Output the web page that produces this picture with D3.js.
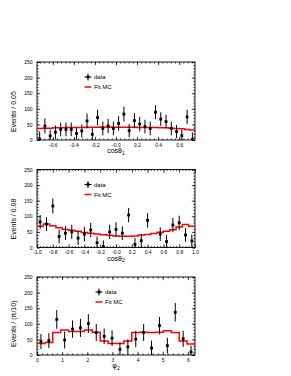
<!DOCTYPE html>
<html>
<head>
<meta charset="utf-8">
<script src="https://cdn.jsdelivr.net/npm/d3@7"></script>
<style>
  body { margin: 0; background: #fff; }
  text { font-family: "Liberation Sans", Arial, sans-serif; fill: #000; }
</style>
</head>
<body>
<svg id="chart" width="291" height="376"></svg>
<script>
// values
// cos(theta1), 30 bins of 0.05
const cos1Counts = [3, 45, 13, 25, 34, 34, 34, 21, 29, 61, 18, 72, 37, 45, 37, 53, 83, 30, 62, 51, 43, 37, 89, 67, 59, 37, 27, 14, 74, 2];
const cos1Errors = [24, 24, 20, 22, 22, 22, 22, 20, 21, 24, 20, 25, 22, 23, 22, 23, 24, 21, 24, 23, 22, 22, 22, 22, 22, 22, 21, 19, 23, 22];
const cos1Fit = [37, 38, 38, 39, 39, 40, 40, 40, 40, 41, 41, 41, 42, 42, 41, 41, 41, 41, 41, 40, 40, 40, 40, 39, 39, 38, 37, 36, 34, 32];
const cos1Ticks = [-0.6, -0.4, -0.2, 0, 0.2, 0.4, 0.6];
const cos1TickLabels = ["-0.6", "-0.4", "-0.2", "-0.0", "0.2", "0.4", "0.6"];

// cos(theta2), 25 bins of 0.08
const cos2Counts = [82, 75, 133, 35, 46, 50, 30, 43, 56, 15, 3, 50, 58, 46, 104, 10, 22, 87, null, 43, 19, 72, 79, 40, 21];
const cos2Errors = [22, 22, 24, 22, 22, 23, 22, 23, 23, 20, 20, 23, 23, 22, 23, 20, 21, 23, 0, 22, 21, 23, 23, 22, 21];
const cos2Fit = [68, 75, 70, 63, 58, 55, 52, 48, 46, 43, 41, 39, 37, 36, 36, 37, 40, 42, 45, 49, 52, 57, 66, 74, 68];
const cos2Ticks = [-1, -0.8, -0.6, -0.4, -0.2, 0, 0.2, 0.4, 0.6, 0.8, 1];
const cos2TickLabels = ["-1.0", "-0.8", "-0.6", "-0.4", "-0.2", "-0.0", "0.2", "0.4", "0.6", "0.8", "1.0"];

// phi2, 20 bins of pi/10
const phiCounts = [43, 46, 114, 48, 83, 87, 101, 72, 60, 54, 18, 26, 51, 72, 22, 94, 30, 137, 52, 10];
const phiErrors = [24, 24, 30, 27, 28, 29, 30, 27, 25, 25, 22, 24, 26, 27, 24, 28, 25, 30, 26, 20];
const phiFit = [37, 40, 72, 80, 75, 75, 80, 73, 45, 37, 37, 45, 72, 73, 72, 73, 78, 72, 45, 35];
const phiTicks = [0, 1, 2, 3, 4, 5, 6];
const phiTickLabels = ["0", "1", "2", "3", "4", "5", "6"];

const yTicks = [0, 50, 100, 150, 200, 250];

const svg = d3.select("#chart");
const left = 37, right = 195;

function drawPanel(p, idx) {
  const x = d3.scaleLinear().domain(p.domain).range([left, right]);
  const y = d3.scaleLinear().domain([0, 250]).range([p.bottom, p.top]);
  const g = svg.append("g");
  const n = p.counts.length;
  const bw = (p.domain[1] - p.domain[0]) / n;

  g.append("clipPath").attr("id", "clip" + idx)
    .append("rect").attr("x", left).attr("y", p.top)
    .attr("width", right - left).attr("height", p.bottom - p.top);

  // minor ticks
  const minorX = d3.range(Math.ceil(p.domain[0] / p.minor - 1e-6), Math.floor(p.domain[1] / p.minor + 1e-6) + 1)
    .map(k => +(k * p.minor).toFixed(4));
  const minorY = d3.range(0, 251, 10);

  const axes = [
    [d3.axisBottom(x).tickValues(minorX).tickSize(-1.6).tickFormat(""), `translate(0,${p.bottom})`],
    [d3.axisTop(x).tickValues(minorX).tickSize(-1.6).tickFormat(""), `translate(0,${p.top})`],
    [d3.axisTop(x).tickValues(p.ticks).tickSize(-3.2).tickFormat(""), `translate(0,${p.top})`],
    [d3.axisLeft(y).tickValues(minorY).tickSize(-1.6).tickFormat(""), `translate(${left},0)`],
    [d3.axisRight(y).tickValues(minorY).tickSize(-1.6).tickFormat(""), `translate(${right},0)`],
    [d3.axisRight(y).tickValues(yTicks).tickSize(-3.2).tickFormat(""), `translate(${right},0)`],
    [d3.axisBottom(x).tickValues(p.ticks).tickSize(-3.2).tickPadding(3)
      .tickFormat((d, i) => p.labels[i]), `translate(0,${p.bottom})`],
    [d3.axisLeft(y).tickValues(yTicks).tickSize(-3.2).tickPadding(4.5), `translate(${left},0)`]
  ];
  axes.forEach(([ax, tr]) => {
    const a = g.append("g").attr("transform", tr).call(ax);
    a.select(".domain").remove();
    a.selectAll("line").attr("stroke", "#000").attr("stroke-width", 0.7);
    a.selectAll("text").style("font-size", "5px").style("font-family", "'Liberation Sans', Arial, sans-serif");
  });

  g.append("rect")
    .attr("x", left).attr("y", p.top)
    .attr("width", right - left).attr("height", p.bottom - p.top)
    .attr("fill", "none").attr("stroke", "#000").attr("stroke-width", 0.9);

  // fit histogram
  const fitPts = p.fit.map((v, i) => [p.domain[0] + i * bw, v]);
  fitPts.push([p.domain[1], p.fit[n - 1]]);
  g.append("path")
    .attr("clip-path", `url(#clip${idx})`)
    .attr("d", d3.line().x(d => x(d[0])).y(d => y(d[1])).curve(d3.curveStepAfter)(fitPts))
    .attr("fill", "none").attr("stroke", "#ff0000").attr("stroke-width", 1.5);

  // data
  const pts = p.counts.map((v, i) => ({ c: p.domain[0] + (i + 0.5) * bw, v: v, e: p.errors[i] }))
    .filter(d => d.v !== null);
  const dg = g.append("g").attr("clip-path", `url(#clip${idx})`);
  dg.selectAll("line").data(pts).enter().append("line")
    .attr("x1", d => x(d.c)).attr("x2", d => x(d.c))
    .attr("y1", d => y(d.v - d.e)).attr("y2", d => y(d.v + d.e))
    .attr("stroke", "#000").attr("stroke-width", 1);
  dg.selectAll("rect").data(pts).enter().append("rect")
    .attr("x", d => x(d.c) - 1.4).attr("y", d => y(d.v) - 1.4)
    .attr("width", 2.8).attr("height", 2.8).attr("fill", "#000");

  // legend
  const lx = p.legendX, ly = p.top + 15;
  g.append("line").attr("x1", lx - 3.5).attr("x2", lx + 3.5).attr("y1", ly).attr("y2", ly).attr("stroke", "#000");
  g.append("line").attr("x1", lx).attr("x2", lx).attr("y1", ly - 3.5).attr("y2", ly + 3.5).attr("stroke", "#000");
  g.append("rect").attr("x", lx - 1.4).attr("y", ly - 1.4).attr("width", 2.8).attr("height", 2.8);
  g.append("text").attr("x", lx + 6).attr("y", ly + 2).style("font-size", "6px").text("data");
  g.append("line").attr("x1", lx - 3.5).attr("x2", lx + 3.5).attr("y1", ly + 10).attr("y2", ly + 10)
    .attr("stroke", "#ff0000").attr("stroke-width", 1.5);
  g.append("text").attr("x", lx + 6).attr("y", ly + 12).style("font-size", "6px").text("Fit MC");

  // axis titles
  const xt = g.append("text").attr("x", (left + right) / 2).attr("y", p.bottom + 13)
    .attr("text-anchor", "middle").style("font-size", "7px");
  xt.append("tspan").text(p.xTitle);
  xt.append("tspan").attr("dy", 1.6).style("font-size", "5px").text(p.xSub);

  g.append("text")
    .attr("transform", `translate(16,${p.top + 70}) rotate(-90)`)
    .attr("text-anchor", "start").style("font-size", "7px")
    .text(p.yTitle);
}

const panels = [
  { domain: [-0.75, 0.75], top: 62, bottom: 140, counts: cos1Counts, errors: cos1Errors, fit: cos1Fit,
    ticks: cos1Ticks, labels: cos1TickLabels, minor: 0.04, xTitle: "cosθ", xSub: "1",
    yTitle: "Events / 0.05", legendX: 88 },
  { domain: [-1, 1], top: 169.5, bottom: 247.5, counts: cos2Counts, errors: cos2Errors, fit: cos2Fit,
    ticks: cos2Ticks, labels: cos2TickLabels, minor: 0.04, xTitle: "cosθ", xSub: "2",
    yTitle: "Events / 0.08", legendX: 88 },
  { domain: [0, 2 * Math.PI], top: 277, bottom: 355, counts: phiCounts, errors: phiErrors, fit: phiFit,
    ticks: phiTicks, labels: phiTickLabels, minor: 0.2, xTitle: "φ", xSub: "2",
    yTitle: "Events / (π/10)", legendX: 99 }
];

panels.forEach(drawPanel);
</script>
</body>
</html>
